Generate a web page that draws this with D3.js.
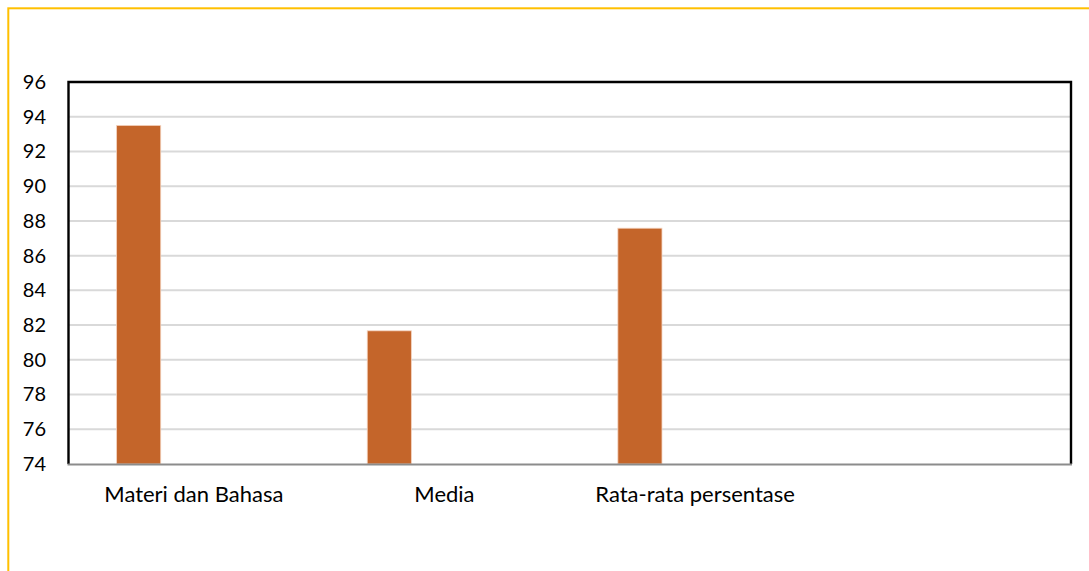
<!DOCTYPE html>
<html>
<head>
<meta charset="utf-8">
<script src="https://cdn.jsdelivr.net/npm/d3@7"></script>
<style>
  html, body { margin: 0; padding: 0; background: #fff; overflow: hidden; }
  text { font-family: Lato, "Open Sans", sans-serif; fill: #000; }
</style>
</head>
<body>
<div id="chart"></div>
<script>
// Data
const categories = ["Materi dan Bahasa", "Media", "Rata-rata persentase", ""];
const values = [93.5, 81.67, 87.58, null];
const yTicks = [74, 76, 78, 80, 82, 84, 86, 88, 90, 92, 94, 96];

// Set up dimensions
const W = 1089, H = 571;
const margin = {top: 82, right: 18, bottom: 107, left: 68.5};
const width = W - margin.left - margin.right;
const height = H - margin.top - margin.bottom;

const root = d3.select("#chart")
    .append("svg")
    .attr("width", W)
    .attr("height", H);

// Outer yellow frame (runs off the right and bottom edges)
root.append("rect")
    .attr("x", 8.3)
    .attr("y", 8.3)
    .attr("width", 2000)
    .attr("height", 2000)
    .attr("fill", "none")
    .attr("stroke", "#FFC000")
    .attr("stroke-width", 2);

const svg = root.append("g")
    .attr("transform", `translate(${margin.left},${margin.top})`);

// Scales
const x = d3.scaleBand()
    .domain(categories.map((d, i) => i))
    .range([0, width]);

const y = d3.scaleLinear()
    .domain([74, 96])
    .range([height, 0]);

// Gridlines
svg.append("g")
    .selectAll("line")
    .data(yTicks.filter(t => t > 74 && t < 96))
    .join("line")
    .attr("x1", 0)
    .attr("x2", width)
    .attr("y1", d => y(d))
    .attr("y2", d => y(d))
    .attr("stroke", "#d9d9d9")
    .attr("stroke-width", 2);

// Bars
const barOffset = 0.192, barWidth = 0.176;
svg.append("g")
    .selectAll("rect")
    .data(values.map((v, i) => ({i, v})).filter(d => d.v != null))
    .join("rect")
    .attr("x", d => x(d.i) + x.bandwidth() * barOffset)
    .attr("y", d => y(d.v))
    .attr("width", x.bandwidth() * barWidth)
    .attr("height", d => height - y(d.v))
    .attr("fill", "#C4652A")
    .attr("stroke", "#f4d3bf")
    .attr("stroke-width", 0.8);

// Plot frame: black left/top/right
svg.append("path")
    .attr("d", `M0,${height}V0H${width}V${height}`)
    .attr("fill", "none")
    .attr("stroke", "#000")
    .attr("stroke-width", 2.4);

// X axis line
svg.append("line")
    .attr("x1", -1)
    .attr("x2", width + 1)
    .attr("y1", height + 0.5)
    .attr("y2", height + 0.5)
    .attr("stroke", "#8c8c8c")
    .attr("stroke-width", 2);

// Y axis labels
const yAxis = svg.append("g")
    .call(d3.axisLeft(y).tickValues(yTicks).tickSize(0).tickPadding(22.5));
yAxis.select(".domain").remove();
yAxis.selectAll("text")
    .style("font-size", "20px")
    .style("font-family", "Lato, 'Open Sans', sans-serif")
    .attr("fill", "#000");

// X axis labels
const xAxis = svg.append("g")
    .attr("transform", `translate(0,${height})`)
    .call(d3.axisBottom(x).tickSize(0).tickPadding(22).tickFormat(i => categories[i]));
xAxis.select(".domain").remove();
xAxis.selectAll("text")
    .style("font-size", "22px")
    .style("font-family", "Lato, 'Open Sans', sans-serif")
    .attr("fill", "#000");
</script>
</body>
</html>
